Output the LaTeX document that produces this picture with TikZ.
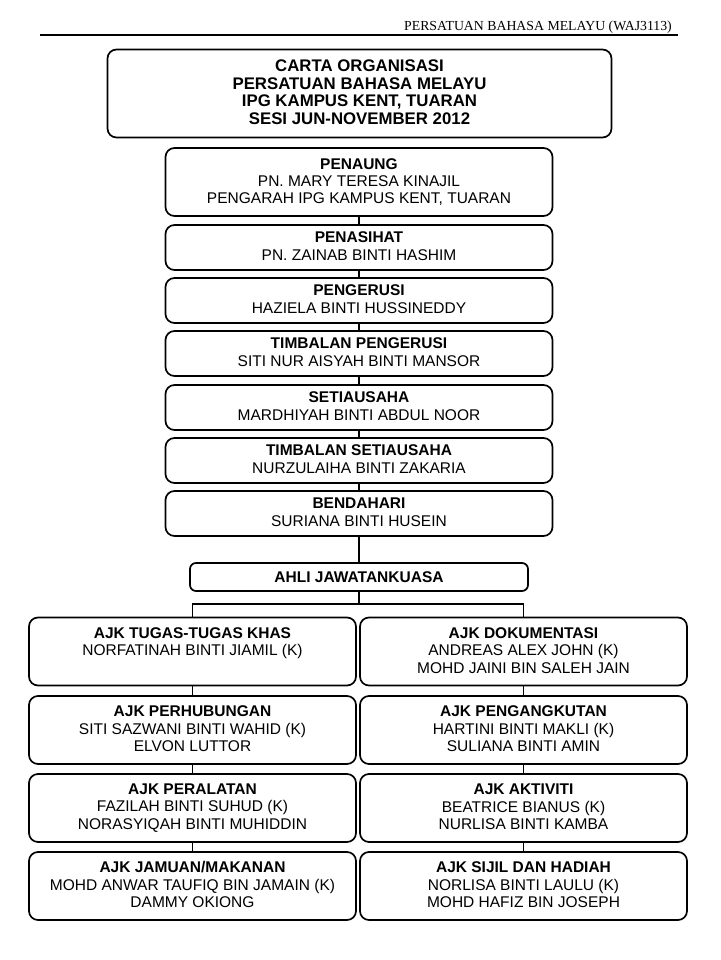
\documentclass[tikz,border=0pt]{standalone}
\usepackage{fontspec}
\setmainfont{Liberation Sans}
\newfontfamily\hdrfont{Liberation Serif}
\newcommand\capstrut{\rule[-2.5pt]{0pt}{16.1pt}}
\begin{document}
\begin{tikzpicture}[x=1pt,y=-1pt,
  orgbox/.style={draw, line width=1.7pt, rounded corners=9pt, align=center, inner sep=0pt,
    font=\fontsize{15.5}{17.5}\selectfont,
    execute at begin node=\capstrut, execute at end node=\capstrut},
  stackbox/.style={orgbox, minimum width=387pt, minimum height=45pt},
  ajkbox/.style={orgbox, minimum width=327pt, minimum height=68pt},
  link/.style={line width=1.3pt}
]
\useasboundingbox[fill=white] (0,0) rectangle (720,960);

% header
\node[font=\hdrfont\fontsize{13.8}{15}\selectfont, inner sep=0pt] (hdr) at (538,27) {PERSATUAN BAHASA MELAYU (WAJ3113)};
\coordinate (ruleL) at (40,35);
\coordinate (ruleR) at (678,35);
\draw[line width=1.4pt] (ruleL) -- (ruleR);

% title
\node[orgbox, minimum width=504pt, minimum height=88pt, font=\bfseries\fontsize{16.8}{17.7}\selectfont] (title) at (359.5,93.5)
  {CARTA ORGANISASI\\PERSATUAN BAHASA MELAYU\\IPG KAMPUS KENT, TUARAN\\SESI JUN-NOVEMBER 2012};

% stack
\node[orgbox, minimum width=387pt, minimum height=68pt, font=\fontsize{15.5}{17}\selectfont] (penaung) at (359,182)
  {\textbf{PENAUNG}\\PN. MARY TERESA KINAJIL\\PENGARAH IPG KAMPUS KENT, TUARAN};
\node[stackbox] (penasihat) at (359,247.5) {\textbf{PENASIHAT}\\PN. ZAINAB BINTI HASHIM};
\node[stackbox] (pengerusi) at (359,300.5) {\textbf{PENGERUSI}\\HAZIELA BINTI HUSSINEDDY};
\node[stackbox] (tpengerusi) at (359,353.5) {\textbf{TIMBALAN PENGERUSI}\\SITI NUR AISYAH BINTI MANSOR};
\node[stackbox] (setiausaha) at (359,407.5) {\textbf{SETIAUSAHA}\\MARDHIYAH BINTI ABDUL NOOR};
\node[stackbox] (tsetiausaha) at (359,460.5) {\textbf{TIMBALAN SETIAUSAHA}\\NURZULAIHA BINTI ZAKARIA};
\node[stackbox] (bendahari) at (359,513.5) {\textbf{BENDAHARI}\\SURIANA BINTI HUSEIN};

\node[orgbox, minimum width=338pt, minimum height=28pt, rounded corners=6pt, font=\bfseries\fontsize{15.5}{17}\selectfont] (ajk) at (359,577) {AHLI JAWATANKUASA};

\draw[link] (penaung.south) -- (penasihat.north);
\draw[link] (penasihat.south) -- (pengerusi.north);
\draw[link] (pengerusi.south) -- (tpengerusi.north);
\draw[link] (tpengerusi.south) -- (setiausaha.north);
\draw[link] (setiausaha.south) -- (tsetiausaha.north);
\draw[link] (tsetiausaha.south) -- (bendahari.north);
\draw[link] (bendahari.south) -- (ajk.north);

% committee boxes
\node[ajkbox] (l1) at (192.5,651.5) {\textbf{AJK TUGAS-TUGAS KHAS}\\NORFATINAH BINTI JIAMIL (K)\\~};
\node[ajkbox] (r1) at (523.5,651.5) {\textbf{AJK DOKUMENTASI}\\ANDREAS ALEX JOHN (K)\\MOHD JAINI BIN SALEH JAIN};
\node[ajkbox] (l2) at (192.5,730) {\textbf{AJK PERHUBUNGAN}\\SITI SAZWANI BINTI WAHID (K)\\ELVON LUTTOR};
\node[ajkbox] (r2) at (523.5,730) {\textbf{AJK PENGANGKUTAN}\\HARTINI BINTI MAKLI (K)\\SULIANA BINTI AMIN};
\node[ajkbox] (l3) at (192.5,808) {\textbf{AJK PERALATAN}\\FAZILAH BINTI SUHUD (K)\\NORASYIQAH BINTI MUHIDDIN};
\node[ajkbox] (r3) at (523.5,808) {\textbf{AJK AKTIVITI}\\BEATRICE BIANUS (K)\\NURLISA BINTI KAMBA};
\node[ajkbox] (l4) at (192.5,886) {\textbf{AJK JAMUAN/MAKANAN}\\MOHD ANWAR TAUFIQ BIN JAMAIN (K)\\DAMMY OKIONG};
\node[ajkbox] (r4) at (523.5,886) {\textbf{AJK SIJIL DAN HADIAH}\\NORLISA BINTI LAULU (K)\\MOHD HAFIZ BIN JOSEPH};

\coordinate (bus) at (359,604);
\draw[link] (ajk.south) -- (bus);
\draw[link] (l1.north) -- (l1.north |- bus) -- (r1.north |- bus) -- (r1.north);
\draw[link] (l1.south) -- (l2.north);
\draw[link] (l2.south) -- (l3.north);
\draw[link] (l3.south) -- (l4.north);
\draw[link] (r1.south) -- (r2.north);
\draw[link] (r2.south) -- (r3.north);
\draw[link] (r3.south) -- (r4.north);
\end{tikzpicture}
\end{document}
